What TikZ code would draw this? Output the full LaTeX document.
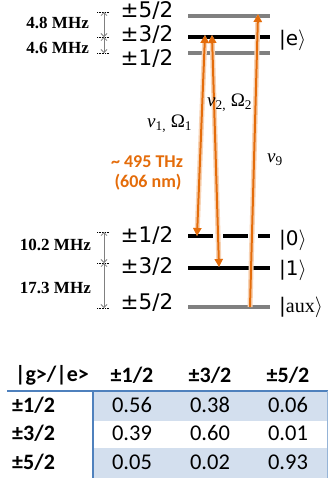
\documentclass[tikz,border=0pt]{standalone}
\usepackage{fontspec}
\setmainfont{Liberation Serif}
\newfontfamily\lvlfont{DejaVu Sans}
\newfontfamily\calfont{Carlito}
\usetikzlibrary{arrows.meta}
\definecolor{orng}{RGB}{228,108,10}
\definecolor{lvlgray}{RGB}{128,128,128}
\definecolor{tblue}{RGB}{79,129,189}
\definecolor{tfill}{RGB}{211,223,238}
\tikzset{
  lvlgrey/.style={draw=lvlgray, line width=3.5pt},
  lvlblack/.style={draw=black, line width=4pt},
  lvltxt/.style={inner sep=0pt, font=\lvlfont\fontsize{21.5}{21.5}\selectfont},
  ket/.style={inner sep=0pt, anchor=west, font=\lvlfont\fontsize{20}{20}\selectfont},
  mhz/.style={inner sep=0pt, anchor=east, font=\bfseries\fontsize{17}{17}\selectfont},
  tick/.style={draw=black, densely dotted, line width=0.6pt},
  gap/.style={draw=lvlgray, line width=0.8pt, {Straight Barb[length=3pt]}-{Straight Barb[length=3pt]}},
  laser/.style={draw=orng, line width=2pt, preaction={draw=orng!30, line width=5pt}},
  tip/.style={-{Triangle[length=8pt,width=8pt]}},
  bitip/.style={{Triangle[length=8pt,width=8pt]}-{Triangle[length=8pt,width=8pt]}},
  lab/.style={inner sep=0pt, font=\fontsize{19}{19}\selectfont},
  otxt/.style={inner sep=0pt, text=orng, font=\calfont\bfseries\fontsize{18}{18}\selectfont},
  thead/.style={inner sep=0pt, font=\calfont\bfseries\fontsize{22}{22}\selectfont},
  tcell/.style={inner sep=0pt, font=\calfont\fontsize{22.5}{22.5}\selectfont},
}
\begin{document}
\begin{tikzpicture}[x=1pt,y=-1pt]
\useasboundingbox (0,0) rectangle (331,483);
% excited levels
\draw[lvlgrey] (188,16) -- (270,16);
\draw[lvlblack] (188,37) -- (270,37);
\draw[lvlgrey] (188,53) -- (270,53);
% ground levels
\draw[lvlblack, dash pattern=on 25pt off 10pt] (188,236) -- (270,236);
\draw[lvlblack] (188,268) -- (270,268);
\draw[lvlgrey] (188,307) -- (270,307);
% level labels
\node[lvltxt] (e5) at (147,11) {±5/2};
\node[lvltxt] (e3) at (147,35) {±3/2};
\node[lvltxt] (e1) at (147,59) {±1/2};
\node[lvltxt] (g1) at (147,236) {±1/2};
\node[lvltxt] (g3) at (147,267) {±3/2};
\node[lvltxt] (g5) at (147,303) {±5/2};
\node[ket] (ke) at (279,40) {|e$\rangle$};
\node[ket] (k0) at (279,240) {|0$\rangle$};
\node[ket] (k1) at (279,270) {|1$\rangle$};
\node[ket] (ka) at (279,307) {|{\rmfamily aux}$\rangle$};
% spacing markers
\draw[tick] (97,12) -- (109,12);
\draw[tick] (97,37) -- (109,37);
\draw[tick] (97,53) -- (109,53);
\draw[tick] (97,232) -- (109,232);
\draw[tick] (97,263) -- (109,263);
\draw[tick] (97,308) -- (109,308);
\coordinate (a1) at (104,12);
\coordinate (a2) at (104,37);
\coordinate (a3) at (104,53);
\coordinate (b1) at (104,232);
\coordinate (b2) at (104,263);
\coordinate (b3) at (104,308);
\draw[gap] (a1) -- (a2);
\draw[gap] (a2) -- (a3);
\draw[gap] (b1) -- (b2);
\draw[gap] (b2) -- (b3);
\node[mhz] (m1) at (89,23) {4.8 MHz};
\node[mhz] (m2) at (89,48) {4.6 MHz};
\node[mhz] (m3) at (91,245) {10.2 MHz};
\node[mhz] (m4) at (91,288) {17.3 MHz};
% lasers
\coordinate (t1) at (205,35);
\coordinate (t2) at (212,35);
\coordinate (t9) at (258,14);
\coordinate (d1) at (197,236);
\coordinate (d2) at (219,267);
\coordinate (d9) at (250,307);
\draw[laser, bitip] (t1) -- (d1);
\draw[laser, bitip] (t2) -- (d2);
\draw[laser, tip] (d9) -- (t9);
\node[lab, anchor=west] (n1) at (147,124) {\textit{ν}\textsubscript{1,} Ω\textsubscript{1}};
\node[lab, anchor=west] (n2) at (207,103) {\textit{ν}\textsubscript{2,} Ω\textsubscript{2}};
\node[lab, anchor=west] (n9) at (267,160) {\textit{ν}\textsubscript{9}};
\node[otxt] (f1) at (147,162) {\textasciitilde{} 495 THz};
\node[otxt] (f2) at (148,182) {(606 nm)};
% table
\fill[tfill] (93,391) rectangle (327,421);
\fill[tfill] (93,448) rectangle (327,478);
\draw[tblue, line width=2pt] (7,391) -- (328,391);
\draw[tblue, line width=1.5pt] (93,391) -- (93,478);
\draw[tblue!60, line width=1pt] (327,391) -- (327,478);
\node[thead] (h0) at (52,375) {|g>/|e>};
\node[thead] (h1) at (132,375) {±1/2};
\node[thead] (h2) at (210,375) {±3/2};
\node[thead] (h3) at (288,375) {±5/2};
\node[thead, anchor=west] (r1) at (12,405) {±1/2};
\node[thead, anchor=west] (r2) at (12,433) {±3/2};
\node[thead, anchor=west] (r3) at (12,462) {±5/2};
\node[tcell] (c11) at (132,405) {0.56};
\node[tcell] (c12) at (210,405) {0.38};
\node[tcell] (c13) at (288,405) {0.06};
\node[tcell] (c21) at (132,433) {0.39};
\node[tcell] (c22) at (210,433) {0.60};
\node[tcell] (c23) at (288,433) {0.01};
\node[tcell] (c31) at (132,462) {0.05};
\node[tcell] (c32) at (210,462) {0.02};
\node[tcell] (c33) at (288,462) {0.93};
\end{tikzpicture}
\end{document}
